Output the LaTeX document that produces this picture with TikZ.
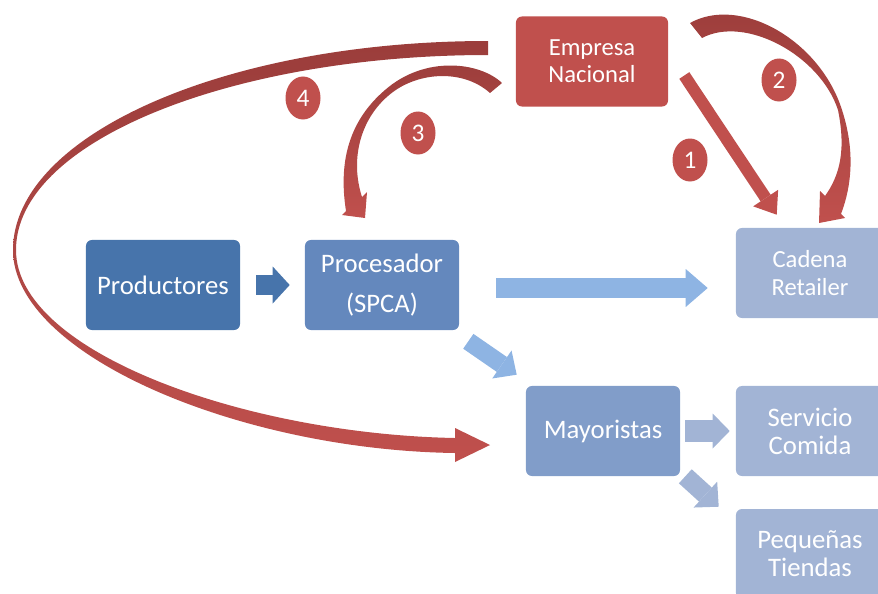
\documentclass[tikz,border=0pt]{standalone}
\usepackage{fontspec}
\setmainfont{Carlito}
\usetikzlibrary{arrows.meta, calc, shapes.geometric}
\definecolor{emp-red}{HTML}{C0504D}
\definecolor{dark-red}{HTML}{9B3D3B}
\definecolor{prod-blue}{HTML}{4774AB}
\definecolor{proc-blue}{HTML}{6488BD}
\definecolor{may-blue}{HTML}{819DC9}
\definecolor{pale-blue}{HTML}{A2B4D5}
\definecolor{light-blue}{HTML}{8EB4E3}

\begin{document}
\begin{tikzpicture}[x=0.025cm, y=-0.025cm,
        every node/.style={font=\fontsize{19}{20}\selectfont, text=white},
        box/.style={rounded corners=0.15cm, minimum width=3.85cm,
            minimum height=2.25cm, align=center, inner sep=0pt},
        small/.style={font=\fontsize{17.5}{19.3}\selectfont},
        num/.style={ellipse, fill=emp-red, minimum width=0.875cm,
            minimum height=1.075cm, inner sep=0pt,
            font=\fontsize{18}{19}\selectfont},
        bigarrow/.style n args={3}{line width=#1,
            -{Triangle[length=#2, width=#3, line width=0pt]}}]
      \useasboundingbox (0,0) rectangle (878,593);
      \clip (0,0) rectangle (878,593);
      % boxes
      \node[box, small, fill=emp-red, minimum width=3.8cm] (emp)
            at (592,61.5) {Empresa\\Nacional};
      \node[box, fill=prod-blue] (prod) at (163,285) {Productores};
      \node[box, fill=proc-blue] (proc) at (382,285)
            {Procesador\\[0.3cm](SPCA)};
      \node[box, small, fill=pale-blue, minimum width=3.7cm] (cad)
            at (810,273) {Cadena\\Retailer};
      \node[box, fill=may-blue] (may) at (603,431) {Mayoristas};
      \node[box, fill=pale-blue, minimum width=3.7cm] (serv) at (810,431)
            {Servicio\\Comida};
      \node[box, fill=pale-blue, minimum width=3.7cm] (peq) at (810,554)
            {Pequeñas\\Tiendas};
      % flow arrows
      \draw[bigarrow={0.5cm}{0.425cm}{0.925cm}, prod-blue,
            shorten <=0.4cm, shorten >=0.375cm] (prod) -- (proc);
      \draw[bigarrow={0.5cm}{0.55cm}{0.95cm}, light-blue]
            ($(proc.east)+(37,3)$) -- ($(cad.west |- proc.east)+(-28,3)$);
      \draw[bigarrow={0.45cm}{0.45cm}{0.85cm}, light-blue]
            ($(proc.south east)+(9,11)$) -- ($(may.north west)+(-9,-11)$);
      \draw[bigarrow={0.55cm}{0.425cm}{0.875cm}, pale-blue,
            shorten <=0.125cm, shorten >=0.15cm] (may) -- (serv);
      \draw[bigarrow={0.475cm}{0.45cm}{0.875cm}, pale-blue]
            ($(may.south east)+(5,0)$) -- ($(peq.north west)+(-17,-2)$);
      % channels of the Empresa Nacional
      \draw[bigarrow={0.3cm}{0.5cm}{0.75cm}, emp-red]
            ($(emp.east)+(16,14)$) -- ($(cad.north west)+(41,-13)$);
      \shade[top color=dark-red, bottom color=emp-red]
            (690,23) .. controls (740,-5) and (820,40) .. (842,110)
            .. controls (855,150) and (852,185) .. (841,214)
            -- (845,218) -- (819,223) -- (820,191) -- (825,196)
            .. controls (840,175) and (846,150) .. (838,110)
            .. controls (820,55) and (745,15) .. (702,38) -- cycle;
      \shade[top color=dark-red, bottom color=emp-red]
            (502,83) .. controls (480,62) and (425,55) .. (385,90)
            .. controls (350,120) and (338,160) .. (346,211)
            -- (342,215) -- (365,218) -- (367,192) -- (362,197)
            .. controls (350,160) and (360,120) .. (388,96)
            .. controls (415,72) and (462,68) .. (490,93) -- cycle;
      \shade[top color=dark-red, bottom color=emp-red]
            (488,41) .. controls (226,41) and (13,135) .. (13,250)
            .. controls (13,355) and (240,450) .. (455,453)
            -- (455,462) -- (490,445) -- (455,428) -- (455,438)
            .. controls (245,434) and (16,352) .. (16,250)
            .. controls (16,140) and (235,55) .. (488,55) -- cycle;
      % numbers
      \node[num] (n1) at (690,160) {1};
      \node[num] (n2) at (779,80) {2};
      \node[num] (n3) at (418,133) {3};
      \node[num] (n4) at (303,98) {4};
    \end{tikzpicture}
\end{document}
